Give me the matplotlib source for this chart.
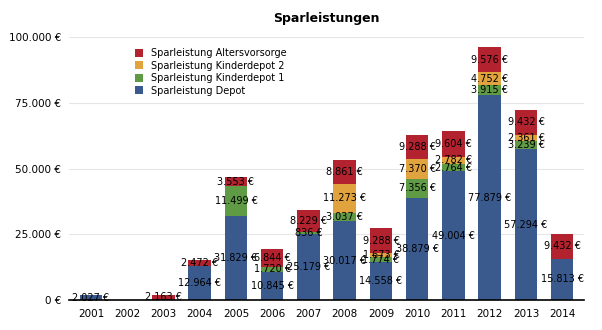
import matplotlib.pyplot as plt
import numpy as np

years = ["2001", "2002", "2003", "2004", "2005", "2006", "2007",
         "2008", "2009", "2010", "2011", "2012", "2013", "2014"]
depot = [2027, 0, 0, 12964, 31829, 10845, 25179, 30017, 14558, 38879, 49004, 77879, 57294, 15813]
kinder1 = [0, 0, 0, 0, 11499, 1720, 836, 3037, 1774, 7356, 2764, 3915, 3239, 0]
kinder2 = [0, 0, 0, 0, 0, 0, 0, 11273, 1673, 7370, 2782, 4752, 2361, 0]
alters = [0, 0, 2163, 2472, 3553, 6844, 8229, 8861, 9288, 9288, 9604, 9576, 9432, 9432]

series = [
    ("Sparleistung Depot", depot, "#3a5a8e"),
    ("Sparleistung Kinderdepot 1", kinder1, "#5f9a45"),
    ("Sparleistung Kinderdepot 2", kinder2, "#e1a33e"),
    ("Sparleistung Altersvorsorge", alters, "#b3222f"),
]


def euro(v):
    return f"{v:,.0f} €".replace(",", ".")


fig, ax = plt.subplots(figsize=(6.02, 3.30), dpi=100)
fig.subplots_adjust(left=0.115, right=0.97, top=0.888, bottom=0.09)

x = np.arange(len(years))
bottom = np.zeros(len(years))
handles = []
for name, vals, color in series:
    vals = np.array(vals, dtype=float)
    bars = ax.bar(x, vals, width=0.62, bottom=bottom, color=color, label=name, zorder=2)
    handles.append(bars)
    for xi, b, v in zip(x, bottom, vals):
        if v > 0:
            ax.text(xi, b + v / 2, euro(v), ha="center", va="center", fontsize=7, zorder=3)
    bottom += vals

ax.set_ylim(0, 100000)
ax.set_xlim(-0.6, len(years) - 0.4)
ax.set_yticks([0, 25000, 50000, 75000, 100000])
ax.set_yticklabels([euro(v) for v in [0, 25000, 50000, 75000, 100000]], fontsize=7.5)
ax.set_xticks(x)
ax.set_xticklabels(years, fontsize=7.5)
ax.tick_params(length=0, pad=6)
ax.grid(axis="y", color="#e6e6e6", linewidth=0.8, zorder=0)
for s in ["left", "right", "top"]:
    ax.spines[s].set_visible(False)
ax.spines["bottom"].set_color("black")
ax.spines["bottom"].set_linewidth(1.2)

ax.set_title("Sparleistungen", fontsize=9, fontweight="bold", pad=11)
ax.legend(handles[::-1], [h.get_label() for h in handles[::-1]], loc="upper left",
          bbox_to_anchor=(0.11, 0.99), frameon=False, fontsize=7,
          handlelength=0.9, handleheight=0.9, labelspacing=0.25, handletextpad=0.8)

plt.savefig("out.png", dpi=100)
